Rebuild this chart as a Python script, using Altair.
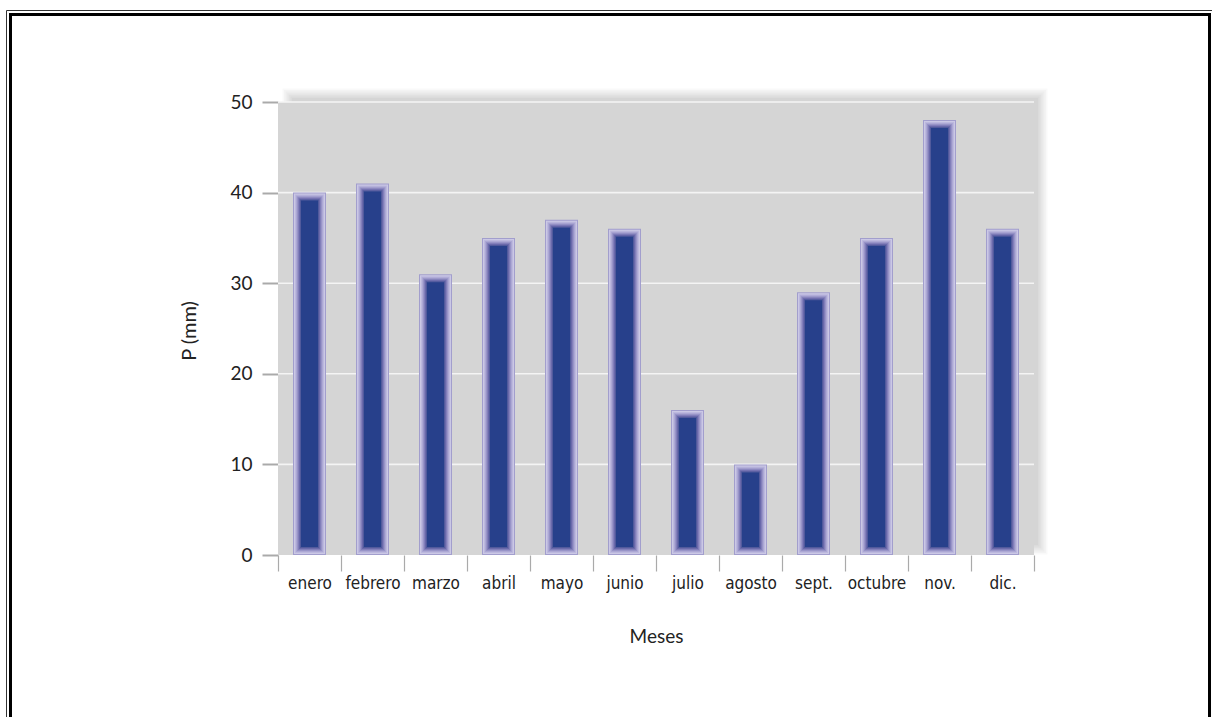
import altair as alt
import pandas as pd

# ---- data ----
meses = ["enero", "febrero", "marzo", "abril", "mayo", "junio",
         "julio", "agosto", "sept.", "octubre", "nov.", "dic."]
precip = [40, 41, 31, 35, 37, 36, 16, 10, 29, 35, 48, 36]
y_ticks = [0, 10, 20, 30, 40, 50]
grid_vals = [10, 20, 30, 40, 50]

df = pd.DataFrame({"mes": meses, "valor": precip})
df_grid = pd.DataFrame({"valor": grid_vals})
one = pd.DataFrame({"k": [0]})

W, H = 756, 453
LABEL_FONT = "Liberation Sans Narrow, DejaVu Sans Condensed, Arial Narrow, Lato, sans-serif"
TITLE_FONT = "Lato, Open Sans, sans-serif"

xenc = alt.X(
    "mes:N", sort=meses,
    scale=alt.Scale(paddingInner=0, paddingOuter=0),
    axis=alt.Axis(
        title="Meses", domain=False, grid=False, labelAngle=0,
        tickBand="extent", tickSize=16, tickColor="#aaaaaa", tickWidth=1.2,
        labelFont=LABEL_FONT, labelFontSize=17, labelColor="#222222",
        labelPadding=4, labelBaseline="top",
        titleFont=TITLE_FONT, titleFontSize=19, titleFontWeight="normal",
        titleColor="#222222", titleY=72, titleBaseline="top",
    ),
)
yenc = alt.Y(
    "valor:Q",
    scale=alt.Scale(domain=[0, 50], nice=False),
    stack=None,
    axis=alt.Axis(
        title="P (mm)", values=y_ticks, domain=False, grid=False,
        tickSize=16, tickColor="#aaaaaa", tickWidth=2,
        labelFont=TITLE_FONT, labelFontSize=19, labelColor="#222222",
        labelPadding=10,
        titleFont=TITLE_FONT, titleFontSize=20, titleFontWeight="normal",
        titleColor="#222222", titleAngle=270, titleX=-89, titleY=H / 2 + 2,
        titleAlign="center", titleBaseline="middle",
    ),
)

layers = []

# double frame around the figure
layers.append(
    alt.Chart(one).mark_rect(filled=False, stroke="#333333", strokeWidth=1).encode(
        x=alt.value(-271.5), x2=alt.value(945), y=alt.value(-91.5), y2=alt.value(640)
    )
)
layers.append(
    alt.Chart(one).mark_rect(filled=False, stroke="#000000", strokeWidth=3).encode(
        x=alt.value(-267.5), x2=alt.value(931.5), y=alt.value(-87.5), y2=alt.value(640)
    )
)

# soft drop shadow up and to the right of the plot panel
for i in range(7):
    e = i * 1.6
    layers.append(
        alt.Chart(one).mark_rect(color="#000000", opacity=0.022).encode(
            x=alt.value(14 - e), x2=alt.value(W + 4 + e),
            y=alt.value(-4 - e), y2=alt.value(H - 10 + e),
        )
    )

# plot panel background
layers.append(
    alt.Chart(one).mark_rect(color="#d5d5d5").encode(
        x=alt.value(0), x2=alt.value(W), y=alt.value(0), y2=alt.value(H)
    )
)

# white gridlines
layers.append(
    alt.Chart(df_grid).mark_rule(color="#f4f4f4", strokeWidth=1.6).encode(
        y=yenc, x=alt.value(0), x2=alt.value(W)
    )
)

# bars with a bevelled look: nested bars from light lavender edge to dark blue core
bar_colors = ["#a29ecd", "#cbc8e5", "#bcb8de", "#aca8d4", "#9894c8",
              "#827fba", "#6a69ab", "#515a9c", "#27408b"]
for k, c in enumerate(bar_colors):
    mk = dict(color=c, size=33 - 2 * k)
    if k > 0:
        mk.update(yOffset=k, y2Offset=-k)
    layers.append(
        alt.Chart(df).mark_bar(**mk).encode(x=xenc, y=yenc, y2=alt.Y2(datum=0))
    )

chart = alt.layer(*layers).properties(
    width=W, height=H,
    autosize=alt.AutoSizeParams(type="none"),
    padding={"left": 278, "top": 102, "right": 178, "bottom": 162},
    background="#ffffff",
).configure_view(strokeWidth=0)

chart.save("out.html", embed_options={"renderer": "svg", "actions": False})
